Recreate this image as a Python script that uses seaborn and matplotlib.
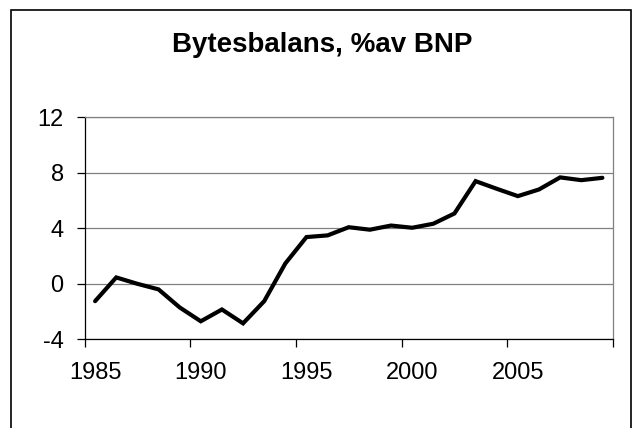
import numpy as np
import pandas as pd
import seaborn as sns
from matplotlib import pyplot as plt
from matplotlib import patches

# current account balance, % of GDP
years = np.arange(1985, 2010)
balance = [-1.25, 0.46, 0.0, -0.4, -1.7, -2.7, -1.85, -2.85, -1.25, 1.47,
           3.37, 3.49, 4.08, 3.9, 4.2, 4.04, 4.33, 5.07, 7.4, 6.85,
           6.32, 6.8, 7.67, 7.47, 7.64]
y_ticks = [-4, 0, 4, 8, 12]
x_labels = [1985, 1990, 1995, 2000, 2005]
title = "Bytesbalans, %av BNP"

df = pd.DataFrame({"year": years, "balance": balance})

sns.set_style("white")
plt.rcParams["font.family"] = ["Liberation Sans", "DejaVu Sans"]
plt.rcParams["text.color"] = "black"
plt.rcParams["xtick.color"] = "black"
plt.rcParams["ytick.color"] = "black"

fig = plt.figure(figsize=(6.36, 4.28), dpi=100)
ax = fig.add_axes([0.1329, 0.2072, 0.9638 - 0.1329, 0.7259 - 0.2072])

sns.lineplot(data=df, x="year", y="balance", ax=ax, color="black", linewidth=3,
             solid_joinstyle="miter")

ax.set_xlim(years[0] - 0.5, years[-1] + 0.5)
ax.set_ylim(y_ticks[0], y_ticks[-1])
ax.set_yticks(y_ticks)
ax.set_yticklabels([str(v) for v in y_ticks])
ax.set_xticks(x_labels)
ax.set_xticklabels([str(v) for v in x_labels])
# excel style: tick marks sit between categories, labels on the categories
bounds = list(years[::5] - 0.5) + [years[-1] + 0.5]
ax.set_xticks(bounds, minor=True)
ax.tick_params(axis="x", which="major", bottom=True, length=0, labelsize=17, pad=16,
               labelcolor="black")
ax.tick_params(axis="x", which="minor", bottom=True, length=6, width=0.9,
               color="black", direction="out")
ax.tick_params(axis="y", left=True, length=6, width=0.9, color="black", direction="out",
               labelsize=17, pad=9, labelcolor="black")
ax.set_xlabel("")
ax.set_ylabel("")

ax.grid(True, axis="y", color="#808080", linewidth=0.9)
ax.set_axisbelow(True)
for side in ["left", "bottom"]:
    ax.spines[side].set_color("black")
    ax.spines[side].set_linewidth(0.9)
for side in ["top", "right"]:
    ax.spines[side].set_color("#808080")
    ax.spines[side].set_linewidth(0.9)

fig.text(0.507, 1 - 51.7 / 428, title, ha="center", va="baseline",
         fontsize=20, fontweight="bold", color="black")

# outer chart frame, bottom edge runs past the image
fig.patches.append(patches.Rectangle((11 / 636, -0.05), (631 - 11) / 636, 1.05 - 10 / 428,
                                     transform=fig.transFigure, fill=False,
                                     edgecolor="black", linewidth=1.2))

fig.savefig("out.png", dpi=100)
